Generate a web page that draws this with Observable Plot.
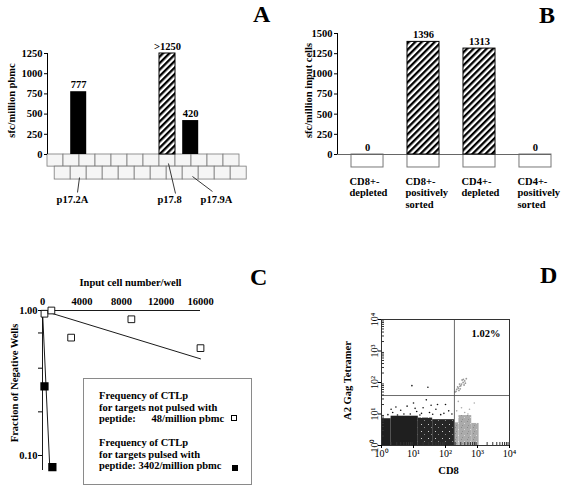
<!DOCTYPE html>
<html><head><meta charset="utf-8">
<script src="https://cdn.jsdelivr.net/npm/d3@7"></script>
<script src="https://cdn.jsdelivr.net/npm/@observablehq/plot@0.6"></script>
<style>
body{margin:0;background:white;}
#fig{position:relative;width:567px;height:489px;background:white;overflow:hidden;font-family:"Liberation Serif","Times New Roman",serif;font-weight:bold;color:black;}
.panel{position:absolute;}
.letter{position:absolute;font-size:24px;line-height:28px;font-weight:bold;}
.legend{position:absolute;border:1px solid #8a8a8a;background:white;box-sizing:border-box;}
.legend .blk{position:absolute;left:15px;font-size:10.5px;line-height:11.5px;white-space:pre;}
.sq{position:absolute;width:6px;height:6px;box-sizing:border-box;border:1px solid black;}
</style></head><body>
<svg width="0" height="0" style="position:absolute">
<defs>
<pattern id="hatch" patternUnits="userSpaceOnUse" width="4.6" height="4.6" patternTransform="rotate(45)">
<rect width="4.6" height="4.6" fill="white"/><rect width="2.3" height="4.6" fill="black"/>
</pattern>
<pattern id="speckle" patternUnits="userSpaceOnUse" width="7" height="7">
<rect width="7" height="7" fill="#262626"/><rect x="1" y="2" width="1" height="1" fill="#d0d0d0"/><rect x="4" y="5" width="1" height="1" fill="#8a8a8a"/>
</pattern>
<pattern id="grayspeck" patternUnits="userSpaceOnUse" width="6" height="6">
<rect width="6" height="6" fill="#ababab"/><rect x="1" y="1" width="1" height="1" fill="#8a8a8a"/><rect x="4" y="3" width="1" height="1" fill="#d8d8d8"/><rect x="2" y="5" width="1" height="1" fill="#909090"/>
</pattern>
</defs></svg>
<div id="fig"></div>
<script>
// ---------- Panel A data ----------
const peptidesA = ["p17.2A", "p17.8", "p17.9A"];
const sfcA = [777, 1250, 420];
const valueLabelsA = ["777", ">1250", "420"];
const hatchedA = [false, true, false];
const brickStartA = [1.45, 7, 8.45];
const brickRow1 = [0, 1, 2, 3, 4, 5, 6, 7, 8, 9, 10, 11];
const brickRow2 = [0.45, 1.45, 2.45, 3.45, 4.45, 5.45, 6.45, 7.45, 8.45, 9.45, 10.45, 11.45];
const brickRowEdges = [0, -150, -310];
const pointerFromA = [[2.0, -285], [7.56, -111], [9.06, -272]];
const pointerToA = [[1.875, -470], [8.0, -483], [10.31, -458]];
const pointerLabelXA = [1.56, 7.63, 10.56];
const ticksA = [0, 250, 500, 750, 1000, 1250];

// ---------- Panel B data ----------
const categoriesB = ["CD8+-\ndepleted", "CD8+-\npositively\nsorted", "CD4+-\ndepleted", "CD4+-\npositively\nsorted"];
const sfcB = [0, 1396, 1313, 0];
const ticksB = [0, 250, 500, 750, 1000, 1250, 1500];

// ---------- Panel C data ----------
const cellsOpenC = [200, 900, 2900, 9000, 16000];
const fracOpenC = [0.95, 1.0, 0.65, 0.87, 0.55];
const cellsFilledC = [200, 1000];
const fracFilledC = [0.30, 0.083];
const fitOpenCells = [0, 16000];
const fitOpenFrac = [1, 0.464];
const fitFilledCells = [0, 750];
const fitFilledFrac = [1, 0.079];
const ticksXC = [0, 4000, 8000, 12000, 16000];
const majorTicksYC = [0.1, 1];
const minorTicksYC = [0.2, 0.4, 0.7];

// ---------- Panel D data (log10 units) ----------
const decadesD = [1, 10, 100, 1000, 10000];
const decadeLabelsD = ["10⁰", "10¹", "10²", "10³", "10⁴"];
const minorD = [2,3,4,5,6,7,8,9,20,30,40,50,60,70,80,90,200,300,400,500,600,700,800,900,2000,3000,4000,5000,6000,7000,8000,9000];
const gateCD8 = 190;
const gateTetramer = 38.6;
const darkCloudD = [{x1: 0, x2: 0.3, top: 0.85}, {x1: 0.3, x2: 1.15, top: 0.93}];
const speckCloudD = [{x1: 1.15, x2: 1.6, top: 0.87}, {x1: 1.6, x2: 2.28, top: 0.82}];
const grayCloudD = [{x1: 2.3, x2: 2.42, top: 0.72}, {x1: 2.42, x2: 2.82, top: 0.95}, {x1: 2.82, x2: 3.05, top: 0.7}];
const sparseDarkD = [[0.35,1.05],[0.6,1.12],[0.9,1.0],[1.1,1.08],[1.3,1.2],[1.5,1.05],[1.7,1.15],[1.95,1.02],[2.1,1.1],[0.2,0.98],[0.8,1.25],[1.2,0.97],[1.6,0.99],[2.0,1.3],[0.5,0.97],[1.0,1.35],[1.4,1.45],[0.95,1.9],[1.45,1.85],[1.75,1.3],[2.2,1.0],[0.7,1.0],[1.85,0.98],[0.3,1.15],[1.25,1.02],[0.45,1.22],[1.05,1.18],[1.55,1.28]];
const diagClusterD = [[2.3,1.7],[2.35,1.78],[2.4,1.82],[2.45,1.88],[2.5,1.95],[2.55,2.0],[2.6,2.05],[2.62,1.98],[2.48,1.9],[2.42,1.75],[2.52,2.08],[2.38,1.86],[2.58,1.92],[2.65,2.12],[2.33,1.72],[2.46,1.8],[2.56,2.1],[2.44,1.95]];
const sparseGrayD = [[2.35,1.1],[2.5,1.2],[2.7,1.0],[2.9,1.35],[2.4,1.4],[2.6,1.05],[2.75,1.15]];

const style = {fontFamily: '"Liberation Serif","Times New Roman",serif', fontSize: "10.5px", fontWeight: "bold", background: "transparent", overflow: "visible", color: "black"};
const fig = document.getElementById("fig");
function place(node, left, top, w, h) {
  const d = document.createElement("div");
  d.className = "panel";
  d.style.left = left + "px"; d.style.top = top + "px";
  d.style.width = w + "px"; d.style.height = h + "px";
  d.appendChild(node);
  fig.appendChild(d);
}
const title = {textAnchor: "middle", lineAnchor: "middle"};

// ---------- Panel A ----------
const bricksA = [
  ...brickRow1.map(x => ({x1: x, x2: x + 1, y1: brickRowEdges[0], y2: brickRowEdges[1]})),
  ...brickRow2.map(x => ({x1: x, x2: x + 1, y1: brickRowEdges[1], y2: brickRowEdges[2]}))
];
const barsA = peptidesA.map((p, i) => ({
  peptide: p, x1: brickStartA[i], x2: brickStartA[i] + 1, v: sfcA[i], label: valueLabelsA[i], hatched: hatchedA[i],
  px1: pointerFromA[i][0], py1: pointerFromA[i][1], px2: pointerToA[i][0], py2: pointerToA[i][1], lx: pointerLabelXA[i]
}));
const plotA = Plot.plot({
  width: 280, height: 240, marginLeft: 47, marginRight: 33, marginTop: 53, marginBottom: 86,
  x: {domain: [0, 12.5], axis: null},
  y: {domain: [0, 1250]},
  style,
  marks: [
    Plot.rect(bricksA, {x1: "x1", x2: "x2", y1: "y1", y2: "y2", fill: "#f5f5f5", stroke: "#7a7a7a", strokeWidth: 0.8}),
    Plot.rect(barsA.filter(d => !d.hatched), {x1: "x1", x2: "x2", y1: () => 0, y2: "v", fill: "black"}),
    Plot.rect(barsA.filter(d => d.hatched), {x1: "x1", x2: "x2", y1: () => 0, y2: "v", fill: "url(#hatch)", stroke: "black"}),
    Plot.ruleX([0], {y1: () => 0, y2: () => ticksA[ticksA.length - 1]}),
    Plot.axisY({ticks: ticksA, tickSize: 3, tickPadding: 2, tickFormat: "d", label: null}),
    Plot.text(barsA, {x: d => (d.x1 + d.x2) / 2, y: "v", text: "label", dy: -4, lineAnchor: "bottom"}),
    Plot.link(barsA, {x1: "px1", y1: "py1", x2: "px2", y2: "py2", stroke: "#222", strokeWidth: 0.9}),
    Plot.text(barsA, {x: "lx", y: () => 0, text: "peptide", dy: 45}),
    Plot.text(["sfc/million pbmc"], {...title, text: d => d, frameAnchor: "left", rotate: -90, dx: -36, dy: -3.5})
  ]
});
place(plotA, 0, 0, 280, 240);

// ---------- Panel B ----------
const cellsB = categoriesB.map((c, i) => ({cat: c, i, v: sfcB[i]}));
const plotB = Plot.plot({
  width: 287, height: 240, marginLeft: 57, marginRight: 16, marginTop: 33, marginBottom: 86,
  x: {domain: [-0.536, 3.286], axis: null},
  y: {domain: [0, 1500]},
  style,
  marks: [
    Plot.rect(cellsB, {x1: d => d.i - 0.286, x2: d => d.i + 0.286, y1: () => 0, y2: () => -161, fill: "white", stroke: "#777"}),
    Plot.ruleY([0], {stroke: "#666"}),
    Plot.rect(cellsB.filter(d => d.v > 0), {x1: d => d.i - 0.286, x2: d => d.i + 0.286, y1: () => 0, y2: "v", fill: "url(#hatch)", stroke: "black"}),
    Plot.ruleX([-0.536], {y1: () => 0, y2: () => ticksB[ticksB.length - 1]}),
    Plot.axisY({ticks: ticksB, tickSize: 3, tickPadding: 2, tickFormat: "d", label: null}),
    Plot.text(cellsB, {x: "i", y: "v", text: d => String(d.v), dy: -4, lineAnchor: "bottom"}),
    Plot.text(cellsB, {x: d => d.i - 0.286, y: () => 0, text: "cat", textAnchor: "start", lineAnchor: "top", dy: 22, dx: -2, lineHeight: 1.1}),
    Plot.text(["sfc/million input cells"], {...title, text: d => d, frameAnchor: "left", rotate: -90, dx: -29, dy: -3.5})
  ]
});
place(plotB, 280, 0, 287, 240);

// ---------- Panel C ----------
const openC = cellsOpenC.map((c, i) => ({cells: c, frac: fracOpenC[i]}));
const filledC = cellsFilledC.map((c, i) => ({cells: c, frac: fracFilledC[i]}));
const fitOpen = fitOpenCells.map((c, i) => ({cells: c, frac: fitOpenFrac[i]}));
const fitFilled = fitFilledCells.map((c, i) => ({cells: c, frac: fitFilledFrac[i]}));
const plotC = Plot.plot({
  width: 280, height: 249, marginLeft: 42, marginRight: 80, marginTop: 70, marginBottom: 19,
  x: {domain: [0, 16000]},
  y: {type: "log", domain: [0.0788, 1]},
  style,
  marks: [
    Plot.ruleY([1], {strokeWidth: 0.9}),
    Plot.ruleX([0], {strokeWidth: 0.9}),
    Plot.axisX({anchor: "top", ticks: ticksXC, tickSize: 0, tickPadding: 6, tickFormat: "d", label: null}),
    Plot.axisY({ticks: majorTicksYC, tickFormat: ".2f", tickSize: 4, tickPadding: 1, label: null}),
    Plot.axisY({ticks: minorTicksYC, tickFormat: () => "", tickSize: 4, label: null}),
    Plot.line(fitOpen, {x: "cells", y: "frac", strokeWidth: 0.9}),
    Plot.line(fitFilled, {x: "cells", y: "frac", strokeWidth: 0.9}),
    Plot.dot(openC, {x: "cells", y: "frac", symbol: "square", r: 3.8, fill: "white", stroke: "black", strokeWidth: 0.9}),
    Plot.dot(filledC, {x: "cells", y: "frac", symbol: "square", r: 3.8, fill: "black", stroke: "black"}),
    Plot.text(["Input cell number/well"], {...title, text: d => d, frameAnchor: "top", dx: 9, dy: -28}),
    Plot.text(["Fraction of Negative Wells"], {...title, text: d => d, frameAnchor: "left", rotate: -90, dx: -28, dy: -7.5})
  ]
});
place(plotC, 0, 240, 280, 249);

// Legend of panel C
const leg = document.createElement("div");
leg.className = "legend";
leg.style.cssText = "left:83px;top:378px;width:169px;height:107px;";
leg.innerHTML =
  '<div class="blk" style="top:11px">Frequency of CTLp\nfor targets not pulsed with\npeptide: \u2007\u2007 48/million pbmc</div>' +
  '<div class="sq" style="left:147px;top:36px;background:white"></div>' +
  '<div class="blk" style="top:58px">Frequency of CTLp\nfor targets pulsed with\npeptide: 3402/million pbmc</div>' +
  '<div class="sq" style="left:148px;top:86px;background:black"></div>';
fig.appendChild(leg);

// ---------- Panel D ----------
const labelMapD = new Map(decadesD.map((d, i) => [d, decadeLabelsD[i]]));
const cloudOpts = {x1: d => 10 ** d.x1, x2: d => 10 ** d.x2, y1: () => 1, y2: d => 10 ** d.top};
const plotD = Plot.plot({
  width: 287, height: 249, marginLeft: 101, marginRight: 58, marginTop: 79, marginBottom: 44,
  x: {type: "log", domain: [1, 10000]},
  y: {type: "log", domain: [1, 10000]},
  style,
  marks: [
    Plot.rect(darkCloudD, {...cloudOpts, fill: "#1f1f1f"}),
    Plot.rect(speckCloudD, {...cloudOpts, fill: "url(#speckle)"}),
    Plot.rect(grayCloudD, {...cloudOpts, fill: "url(#grayspeck)"}),
    Plot.dot(sparseDarkD, {x: d => 10 ** d[0], y: d => 10 ** d[1], r: 0.8, fill: "#111"}),
    Plot.dot(diagClusterD, {x: d => 10 ** d[0], y: d => 10 ** d[1], r: 0.9, fill: "#999"}),
    Plot.dot(sparseGrayD, {x: d => 10 ** d[0], y: d => 10 ** d[1], r: 0.8, fill: "#aaa"}),
    Plot.ruleX([gateCD8], {stroke: "#444", strokeWidth: 0.8}),
    Plot.ruleY([gateTetramer], {stroke: "#444", strokeWidth: 0.8}),
    Plot.frame({stroke: "#333"}),
    Plot.tickX(minorD, {x: d => d, insetTop: 123, stroke: "#333"}),
    Plot.tickY(minorD, {y: d => d, insetRight: 125, stroke: "#333"}),
    Plot.axisX({ticks: decadesD, tickFormat: d => labelMapD.get(d), tickSize: 3, tickPadding: 1, fontWeight: "normal", fontSize: 10, label: null}),
    Plot.axisY({ticks: decadesD, tickFormat: d => labelMapD.get(d), tickSize: 3, tickPadding: 1, tickRotate: -90, fontWeight: "normal", fontSize: 10, label: null}),
    Plot.text(["A2 Gag Tetramer"], {...title, text: d => d, frameAnchor: "left", rotate: -90, dx: -34, dy: -2}),
    Plot.text(["CD8"], {...title, text: d => d, frameAnchor: "bottom", dx: 3, dy: 25}),
    Plot.text(["1.02%"], {...title, text: d => d, frameAnchor: "top-right", dx: -23.5, dy: 14})
  ]
});
place(plotD, 280, 240, 287, 249);

// ---------- Panel letters ----------
[["A", 253, 0], ["B", 539, 1], ["C", 250, 263], ["D", 540, 261]].forEach(([t, l, tp]) => {
  const d = document.createElement("div");
  d.className = "letter";
  d.style.left = l + "px"; d.style.top = tp + "px";
  d.textContent = t;
  fig.appendChild(d);
});
</script>
</body></html>
